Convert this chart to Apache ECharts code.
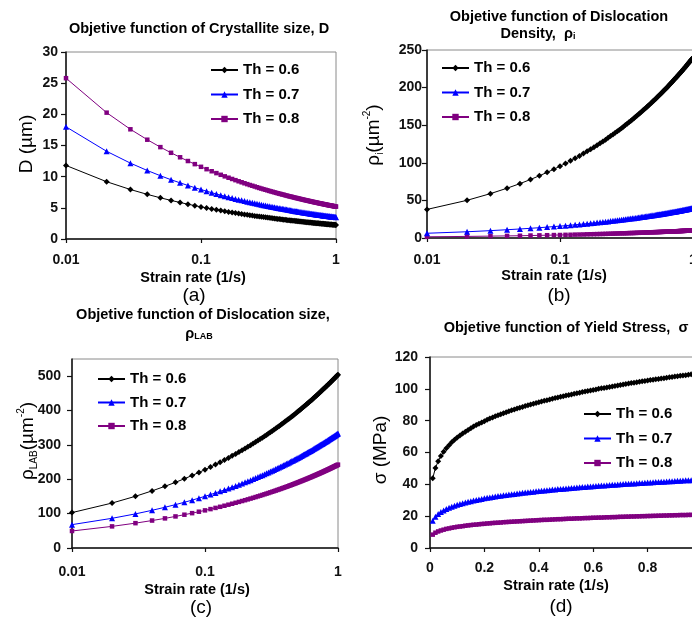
<!DOCTYPE html>
<html><head><meta charset="utf-8">
<script src="https://cdn.jsdelivr.net/npm/echarts@6/dist/echarts.min.js"></script>
<style>html,body{margin:0;padding:0;background:#fff}#c{width:692px;height:619px}</style>
</head><body><div id="c"></div>
<script>
// ---- data ----
const strainRate = [0.01,0.02,0.03,0.04,0.05,0.06,0.07,0.08,0.09,0.10,
  0.11,0.12,0.13,0.14,0.15,0.16,0.17,0.18,0.19,0.20,0.21,0.22,0.23,0.24,0.25,0.26,0.27,0.28,0.29,0.30,
  0.31,0.32,0.33,0.34,0.35,0.36,0.37,0.38,0.39,0.40,0.41,0.42,0.43,0.44,0.45,0.46,0.47,0.48,0.49,0.50,
  0.51,0.52,0.53,0.54,0.55,0.56,0.57,0.58,0.59,0.60,0.61,0.62,0.63,0.64,0.65,0.66,0.67,0.68,0.69,0.70,
  0.71,0.72,0.73,0.74,0.75,0.76,0.77,0.78,0.79,0.80,0.81,0.82,0.83,0.84,0.85,0.86,0.87,0.88,0.89,0.90,
  0.91,0.92,0.93,0.94,0.95,0.96,0.97,0.98,0.99,1.00];
const thLabels = ['Th = 0.6','Th = 0.7','Th = 0.8'];

// (a) crystallite size D (µm)
const crystTh06 = [11.8,9.19,7.94,7.16,6.61,6.19,5.86,5.58,5.35,5.15,
  4.98,4.82,4.69,4.56,4.45,4.35,4.25,4.17,4.09,4.01,
  3.94,3.88,3.82,3.76,3.70,3.65,3.60,3.56,3.51,3.47,
  3.43,3.39,3.35,3.32,3.28,3.25,3.22,3.19,3.16,3.13,
  3.10,3.07,3.05,3.02,3.00,2.97,2.95,2.93,2.91,2.89,
  2.87,2.85,2.83,2.81,2.79,2.77,2.75,2.74,2.72,2.70,
  2.69,2.67,2.66,2.64,2.63,2.61,2.60,2.58,2.57,2.56,
  2.54,2.53,2.52,2.51,2.49,2.48,2.47,2.46,2.45,2.44,
  2.43,2.42,2.40,2.39,2.38,2.37,2.36,2.35,2.34,2.34,
  2.33,2.32,2.31,2.30,2.29,2.28,2.27,2.27,2.26,2.25];
const crystTh07 = [18,14.07,12.17,10.99,10.15,9.51,9.01,8.59,8.23,7.93,
  7.67,7.43,7.22,7.03,6.87,6.71,6.57,6.43,6.31,6.20,
  6.09,5.99,5.90,5.81,5.72,5.64,5.57,5.50,5.43,5.36,
  5.30,5.24,5.19,5.13,5.08,5.03,4.98,4.93,4.89,4.84,
  4.80,4.76,4.72,4.68,4.64,4.61,4.57,4.54,4.51,4.47,
  4.44,4.41,4.38,4.35,4.32,4.30,4.27,4.24,4.22,4.19,
  4.17,4.14,4.12,4.10,4.07,4.05,4.03,4.01,3.99,3.97,
  3.95,3.93,3.91,3.89,3.87,3.85,3.84,3.82,3.80,3.78,
  3.77,3.75,3.74,3.72,3.70,3.69,3.67,3.66,3.64,3.63,
  3.61,3.60,3.59,3.57,3.56,3.55,3.53,3.52,3.51,3.50];
const crystTh08 = [25.8,20.27,17.60,15.93,14.74,13.83,13.11,12.51,12.01,11.58,
  11.20,10.87,10.57,10.30,10.05,9.83,9.63,9.44,9.26,9.10,
  8.94,8.80,8.66,8.54,8.42,8.30,8.19,8.09,7.99,7.90,
  7.81,7.72,7.64,7.56,7.49,7.41,7.34,7.28,7.21,7.15,
  7.09,7.03,6.97,6.91,6.86,6.81,6.76,6.71,6.66,6.61,
  6.57,6.52,6.48,6.44,6.40,6.36,6.32,6.28,6.24,6.21,
  6.17,6.14,6.10,6.07,6.03,6.00,5.97,5.94,5.91,5.88,
  5.85,5.82,5.80,5.77,5.74,5.72,5.69,5.67,5.64,5.61,
  5.59,5.57,5.54,5.52,5.50,5.47,5.45,5.43,5.41,5.39,
  5.37,5.35,5.33,5.31,5.29,5.27,5.25,5.23,5.21,5.20];

// (b) dislocation density rho_i (µm^-2)
const densTh06 = [38.0,50.1,59.0,66.2,72.3,77.8,82.8,87.3,91.5,95.5,
  99.2,102.7,106.0,109.2,112.3,115.2,118.0,120.8,123.4,126.0,
  128.4,130.8,133.2,135.5,137.7,139.9,142.0,144.1,146.1,148.1,
  150.1,152.0,153.9,155.7,157.5,159.3,161.1,162.8,164.5,166.2,
  167.8,169.5,171.1,172.7,174.2,175.7,177.3,178.8,180.2,181.7,
  183.1,184.6,186.0,187.4,188.8,190.1,191.5,192.8,194.1,195.4,
  196.8,198.0,199.3,200.6,201.8,203.1,204.3,205.5,206.7,207.9,
  209.1,210.3,211.4,212.6,213.7,214.8,216.0,217.1,218.2,219.3,
  220.4,221.5,222.5,223.6,224.7,225.7,226.8,227.8,228.8,229.9,
  230.9,231.9,232.9,233.9,234.9,235.9,236.9,237.8,238.8,239.8];
const densTh07 = [6.3,8.3,9.8,11.0,12.0,12.9,13.7,14.5,15.2,15.8,
  16.4,17.0,17.6,18.1,18.6,19.1,19.6,20.0,20.5,20.9,
  21.3,21.7,22.1,22.5,22.8,23.2,23.5,23.9,24.2,24.6,
  24.9,25.2,25.5,25.8,26.1,26.4,26.7,27.0,27.3,27.6,
  27.8,28.1,28.4,28.6,28.9,29.1,29.4,29.6,29.9,30.1,
  30.4,30.6,30.8,31.1,31.3,31.5,31.7,32.0,32.2,32.4,
  32.6,32.8,33.0,33.3,33.5,33.7,33.9,34.1,34.3,34.5,
  34.7,34.9,35.0,35.2,35.4,35.6,35.8,36.0,36.2,36.4,
  36.5,36.7,36.9,37.1,37.3,37.4,37.6,37.8,37.9,38.1,
  38.3,38.4,38.6,38.8,38.9,39.1,39.3,39.4,39.6,39.8];
const densTh08 = [1.6,2.1,2.5,2.8,3.0,3.3,3.5,3.7,3.9,4.0,
  4.2,4.3,4.5,4.6,4.7,4.9,5.0,5.1,5.2,5.3,
  5.4,5.5,5.6,5.7,5.8,5.9,6.0,6.1,6.2,6.2,
  6.3,6.4,6.5,6.6,6.6,6.7,6.8,6.9,6.9,7.0,
  7.1,7.1,7.2,7.3,7.3,7.4,7.5,7.5,7.6,7.7,
  7.7,7.8,7.8,7.9,7.9,8.0,8.1,8.1,8.2,8.2,
  8.3,8.3,8.4,8.4,8.5,8.5,8.6,8.7,8.7,8.8,
  8.8,8.9,8.9,8.9,9.0,9.0,9.1,9.1,9.2,9.2,
  9.3,9.3,9.4,9.4,9.5,9.5,9.5,9.6,9.6,9.7,
  9.7,9.8,9.8,9.8,9.9,9.9,10.0,10.0,10.1,10.1];

// (c) dislocation size rho_LAB (µm^-2)
const labTh06 = [103,130.8,150.5,166.2,179.5,191.1,201.6,211.0,219.8,228.0,
  235.6,242.8,249.5,256.0,262.2,268.1,273.8,279.2,284.4,289.5,
  294.5,299.2,303.8,308.3,312.7,316.9,321.1,325.2,329.1,333.0,
  336.8,340.5,344.1,347.7,351.2,354.6,358.0,361.3,364.5,367.8,
  370.9,374.0,377.0,380.0,383.0,385.9,388.8,391.6,394.4,397.2,
  399.9,402.6,405.3,407.9,410.4,413.0,415.6,418.0,420.5,422.9,
  425.4,427.8,430.1,432.5,434.8,437.1,439.4,441.6,443.9,446.1,
  448.2,450.5,452.6,454.7,456.8,458.9,461.0,463.1,465.0,467.1,
  469.1,471.1,473.0,475.0,476.9,478.9,480.8,482.7,484.6,486.4,
  488.3,490.2,492.0,493.8,495.6,497.4,499.2,501.0,502.7,504.5];
const labTh07 = [68,86.4,99.3,109.7,118.5,126.2,133.1,139.3,145.1,150.5,
  155.5,160.3,164.8,169.0,173.1,177.0,180.7,184.3,187.8,191.1,
  194.4,197.5,200.6,203.6,206.4,209.2,212.0,214.7,217.3,219.8,
  222.3,224.8,227.2,229.6,231.9,234.1,236.3,238.5,240.7,242.8,
  244.9,246.9,248.9,250.9,252.9,254.8,256.7,258.6,260.4,262.2,
  264.0,265.8,267.5,269.3,271.0,272.7,274.4,276.0,277.6,279.2,
  280.8,282.4,284.0,285.5,287.1,288.6,290.1,291.6,293.0,294.5,
  295.9,297.4,298.8,300.2,301.6,303.0,304.3,305.7,307.0,308.4,
  309.7,311.0,312.3,313.6,314.9,316.2,317.4,318.7,319.9,321.2,
  322.4,323.6,324.8,326.0,327.2,328.4,329.6,330.7,331.9,333.1];
const labTh08 = [49.5,62.9,72.3,79.9,86.2,91.9,96.9,101.4,105.6,109.5,
  113.2,116.7,119.9,123.0,126.0,128.8,131.6,134.2,136.7,139.1,
  141.5,143.8,146.0,148.2,150.3,152.3,154.3,156.3,158.2,160.0,
  161.9,163.6,165.4,167.1,168.8,170.4,172.0,173.6,175.2,176.7,
  178.2,179.7,181.2,182.6,184.1,185.5,186.8,188.2,189.6,190.9,
  192.2,193.5,194.8,196.0,197.3,198.5,199.7,200.9,202.1,203.3,
  204.4,205.6,206.7,207.8,209.0,210.1,211.2,212.2,213.3,214.4,
  215.4,216.5,217.5,218.5,219.5,220.5,221.5,222.5,223.5,224.5,
  225.4,226.4,227.3,228.3,229.2,230.1,231.1,232.0,232.9,233.8,
  234.7,235.6,236.4,237.3,238.2,239.1,239.9,240.8,241.6,242.4];

// (d) yield stress sigma (MPa)
const stressTh06 = [43.8,50.3,54.5,57.8,60.4,62.7,64.6,66.4,68.0,69.4,
  70.7,72.0,73.1,74.2,75.3,76.3,77.2,78.1,78.9,79.7,
  80.5,81.3,82.0,82.7,83.4,84.0,84.7,85.3,85.9,86.5,
  87.0,87.6,88.1,88.6,89.2,89.7,90.2,90.6,91.1,91.6,
  92.0,92.5,92.9,93.3,93.8,94.2,94.6,95.0,95.4,95.8,
  96.1,96.5,96.9,97.3,97.6,98.0,98.3,98.6,99.0,99.3,
  99.6,100.0,100.3,100.6,100.9,101.2,101.5,101.8,102.1,102.4,
  102.7,103.0,103.3,103.6,103.9,104.1,104.4,104.7,104.9,105.2,
  105.5,105.7,106.0,106.2,106.5,106.7,107.0,107.2,107.5,107.7,
  107.9,108.2,108.4,108.6,108.9,109.1,109.3,109.6,109.8,110.0];
const stressTh07 = [17.1,19.7,21.3,22.6,23.6,24.5,25.3,25.9,26.6,27.1,
  27.7,28.1,28.6,29.0,29.4,29.8,30.2,30.5,30.8,31.2,
  31.5,31.8,32.0,32.3,32.6,32.8,33.1,33.3,33.6,33.8,
  34.0,34.2,34.4,34.7,34.9,35.1,35.2,35.4,35.6,35.8,
  36.0,36.2,36.3,36.5,36.7,36.8,37.0,37.1,37.3,37.4,
  37.6,37.7,37.9,38.0,38.2,38.3,38.4,38.6,38.7,38.8,
  39.0,39.1,39.2,39.3,39.4,39.6,39.7,39.8,39.9,40.0,
  40.2,40.3,40.4,40.5,40.6,40.7,40.8,40.9,41.0,41.1,
  41.2,41.3,41.4,41.5,41.6,41.7,41.8,41.9,42.0,42.1,
  42.2,42.3,42.4,42.5,42.6,42.6,42.7,42.8,42.9,43.0];
const stressTh08 = [8.4,9.6,10.4,11.0,11.5,12.0,12.3,12.7,13.0,13.3,
  13.5,13.7,14.0,14.2,14.4,14.6,14.7,14.9,15.1,15.2,
  15.4,15.5,15.7,15.8,15.9,16.0,16.2,16.3,16.4,16.5,
  16.6,16.7,16.8,16.9,17.0,17.1,17.2,17.3,17.4,17.5,
  17.6,17.7,17.7,17.8,17.9,18.0,18.1,18.1,18.2,18.3,
  18.4,18.4,18.5,18.6,18.6,18.7,18.8,18.8,18.9,19.0,
  19.0,19.1,19.1,19.2,19.3,19.3,19.4,19.4,19.5,19.6,
  19.6,19.7,19.7,19.8,19.8,19.9,19.9,20.0,20.0,20.1,
  20.1,20.2,20.2,20.3,20.3,20.4,20.4,20.5,20.5,20.6,
  20.6,20.7,20.7,20.7,20.8,20.8,20.9,20.9,21.0,21.0];

const yTicksC = [0,100,200,300,400,500];

// ---- chart ----
const FONT = '"Liberation Sans", Arial, sans-serif';
const colors = ['#000000','#0000ff','#800080'];
const symbols = ['diamond','triangle','rect'];
const symbolSizes = [6,6,4.5];

function pairs(xs, ys){ return xs.map((x,i)=>[x, ys[i]]); }

const grids = [
  {left:66, top:52, width:270, height:187},
  {left:427, top:50, width:266, height:188},
  {left:72, top:359, width:266, height:189},
  {left:430, top:357, width:272, height:191}
].map(g => Object.assign({show:true, borderColor:'#8a8a8a', borderWidth:1, backgroundColor:'#fff',
  containLabel:false, outerBoundsMode:'none'}, g));

const fmt = v => String(parseFloat(Number(v).toPrecision(6)));
function xAxisCfg(i, log, margin){
  const a = {
    gridIndex:i, type: log ? 'log' : 'value', min: log ? 0.01 : 0, max:1,
    axisLine:{show:true, onZero:false, lineStyle:{color:'#111', width:1.5}},
    axisTick:{show:true, length:4, lineStyle:{color:'#111', width:1.2}},
    axisLabel:{fontFamily:FONT, fontWeight:'bold', fontSize:14, color:'#111', margin:margin, formatter:fmt},
    splitLine:{show:false}, minorTick:{show:false}
  };
  if (log) a.logBase = 10; else a.interval = 0.2;
  return a;
}
function yAxisCfg(i, max, interval, margin){
  return {
    gridIndex:i, type:'value', min:0, max:max, interval:interval,
    axisLine:{show:true, onZero:false, lineStyle:{color:'#111', width:1.5}},
    axisTick:{show:true, length:5, lineStyle:{color:'#111', width:1.2}},
    axisLabel:{fontFamily:FONT, fontWeight:'bold', fontSize:14, color:'#111', margin:margin},
    splitLine:{show:false}
  };
}
const xAxes = [xAxisCfg(0,true,14), xAxisCfg(1,true,15), xAxisCfg(2,true,17), xAxisCfg(3,false,13)];
const yAxes = [yAxisCfg(0,30,5,8), yAxisCfg(1,250,50,5), yAxisCfg(2,550,100,11), yAxisCfg(3,120,20,12)];
yAxes[2].axisLabel.customValues = yTicksC;
yAxes[2].axisTick.customValues = yTicksC;

const panelData = [
  [crystTh06, crystTh07, crystTh08],
  [densTh06, densTh07, densTh08],
  [labTh06, labTh07, labTh08],
  [stressTh06, stressTh07, stressTh08]
];
const series = [];
panelData.forEach((p, i) => {
  p.forEach((ys, j) => {
    series.push({
      type:'line', name: thLabels[j], xAxisIndex:i, yAxisIndex:i,
      data: pairs(strainRate, ys), symbol: symbols[j], symbolSize: symbolSizes[j],
      showSymbol:true, showAllSymbol:true, clip:true,
      lineStyle:{color:colors[j], width:1}, itemStyle:{color:colors[j]},
      emphasis:{disabled:true}, z: 3 - j
    });
  });
});

function legendCfg(left, top, gap){
  return {left:left, top:top, orient:'vertical', padding:0, itemWidth:27, itemHeight:8, itemGap:gap,
    selectedMode:false, data: thLabels,
    textStyle:{fontFamily:FONT, fontWeight:'bold', fontSize:15, color:'#000', lineHeight:16}};
}
const legends = [legendCfg(210,62,8.5), legendCfg(441,60,8.5), legendCfg(97,371,7.5), legendCfg(583,406,8.5)];

function txt(x, y, text, size, weight, extra){
  return Object.assign({type:'text', x:x, y:y, silent:true, z:100,
    style:Object.assign({text:text, fontFamily:FONT, fontSize:size, fontWeight:weight||'normal',
      fill:'#000', align:'center', verticalAlign:'middle'}, (extra&&extra.style)||{})}, (extra&&extra.el)||{});
}
const titleRich = {
  t:{fontFamily:FONT, fontSize:14.5, fontWeight:'bold', fill:'#000', lineHeight:17, verticalAlign:'bottom'},
  s:{fontFamily:FONT, fontSize:9, fontWeight:'bold', fill:'#000', lineHeight:17, verticalAlign:'bottom'}
};
const nameRich = {
  n:{fontFamily:FONT, fontSize:19, fill:'#000', lineHeight:23, verticalAlign:'middle'},
  sub:{fontFamily:FONT, fontSize:10, fill:'#000', lineHeight:23, verticalAlign:'bottom'},
  sup:{fontFamily:FONT, fontSize:10, fill:'#000', lineHeight:23, verticalAlign:'top'}
};
const ROT = {el:{rotation:Math.PI/2}};
const graphics = [
  // titles
  txt(199, 29, 'Objetive function of Crystallite size, D', 14.5, 'bold'),
  txt(559, 17, 'Objetive function of Dislocation', 14.5, 'bold'),
  txt(538, 33, '{t|Density,  ρ}{s|i}', 14.5, 'bold', {style:{rich:titleRich}}),
  txt(203, 315, 'Objetive function of Dislocation size,', 14.5, 'bold'),
  txt(199, 333, '{t|ρ}{s|LAB}', 14.5, 'bold', {style:{rich:titleRich}}),
  txt(566, 328, 'Objetive function of Yield Stress,  σ', 14.5, 'bold'),
  // y axis names
  txt(27, 144, 'D (µm)', 19, 'normal', ROT),
  txt(374, 135, '{n|ρ}{sub|i}{n|(µm}{sup|-2}{n|)}', 19, 'normal', {el:{rotation:Math.PI/2}, style:{rich:nameRich}}),
  txt(28, 441, '{n|ρ}{sub|LAB}{n|(µm}{sup|-2}{n|)}', 19, 'normal', {el:{rotation:Math.PI/2}, style:{rich:nameRich}}),
  txt(381, 450, 'σ (MPa)', 19, 'normal', ROT),
  // x axis names
  txt(193, 278, 'Strain rate (1/s)', 14.5, 'bold'),
  txt(554, 276, 'Strain rate (1/s)', 14.5, 'bold'),
  txt(197, 590, 'Strain rate (1/s)', 14.5, 'bold'),
  txt(556, 586, 'Strain rate (1/s)', 14.5, 'bold'),
  // panel letters
  txt(194, 296, '(a)', 19),
  txt(559, 296, '(b)', 19),
  txt(201, 608, '(c)', 19),
  txt(561, 607, '(d)', 19)
];

const chart = echarts.init(document.getElementById('c'), null, {renderer:'canvas'});
chart.setOption({
  animation:false,
  backgroundColor:'#ffffff',
  textStyle:{fontFamily:FONT},
  grid: grids, xAxis: xAxes, yAxis: yAxes,
  legend: legends, series: series, graphic: graphics
});
</script></body></html>
